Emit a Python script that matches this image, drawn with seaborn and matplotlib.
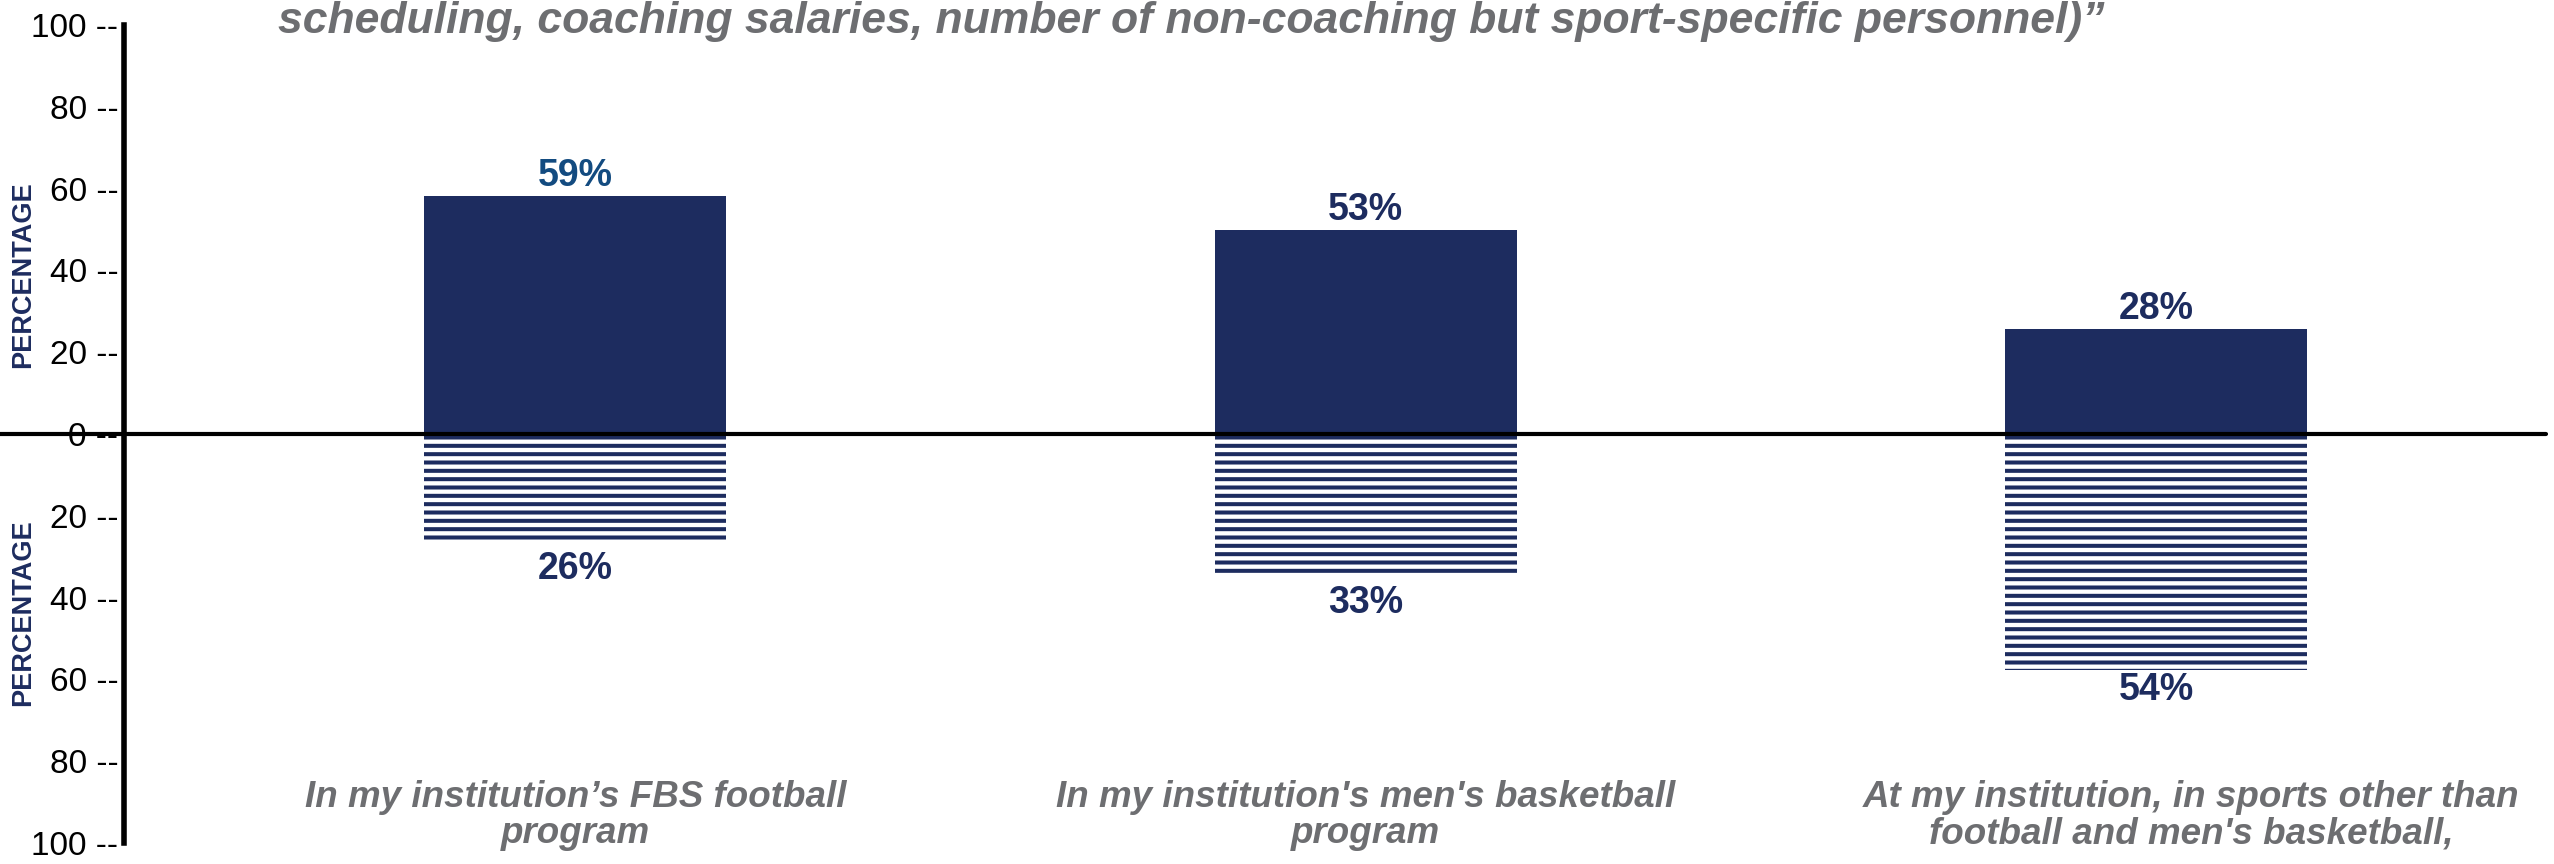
import matplotlib
matplotlib.use("Agg")
import matplotlib.pyplot as plt
import matplotlib.transforms as mtransforms
import pandas as pd
import seaborn as sns

NAVY = "#1d2c5f"
STEEL = "#134b80"
GRAY = "#6d6e71"

categories = [
    "In my institution\u2019s FBS football\nprogram",
    "In my institution's men's basketball\nprogram",
    "At my institution, in sports other than\nfootball and men's basketball,",
]
agree_height = [58.3, 50.0, 25.7]
agree_label = ["59%", "53%", "28%"]
disagree_height = [26.0, 34.3, 57.6]
disagree_label = ["26%", "33%", "54%"]
y_ticks = [-100, -80, -60, -40, -20, 0, 20, 40, 60, 80, 100]
title_line = "scheduling, coaching salaries, number of non-coaching but sport-specific personnel)\u201d"


def main() -> None:
    sns.set_theme(style="white")
    plt.rcParams["font.family"] = ["Liberation Sans", "DejaVu Sans"]
    plt.rcParams["hatch.linewidth"] = 2.9
    plt.rcParams["hatch.color"] = NAVY

    W, H = 2554, 864
    fig = plt.figure(figsize=(W / 100, H / 100), dpi=100)
    ax = fig.add_axes([124 / W, 21 / H, (2546 - 124) / W, (843 - 25) / H])

    top = pd.DataFrame({"category": categories, "value": agree_height})
    bottom = pd.DataFrame({"category": categories, "value": [-v for v in disagree_height]})

    sns.barplot(data=top, x="category", y="value", color=NAVY, saturation=1,
                width=0.382, errorbar=None, linewidth=0, ax=ax)
    sns.barplot(data=bottom, x="category", y="value", color="white", saturation=1,
                width=0.382, errorbar=None, edgecolor=NAVY, hatch="--", linewidth=0, ax=ax)

    top_texts = ax.bar_label(ax.containers[0], labels=agree_label, padding=1,
                             fontsize=27, fontweight="bold", color=NAVY)
    top_texts[0].set_color(STEEL)
    low_texts = ax.bar_label(ax.containers[1], labels=disagree_label, padding=8,
                             fontsize=27, fontweight="bold", color=NAVY)
    low_texts[2].xyann = (0, -2)

    ax.axhline(0, xmin=-124 / 2422, xmax=1, color="black", lw=3, clip_on=False, zorder=5)

    ax.set_ylim(-100, 100)
    ax.set_xlim(-0.571, 2.493)
    ax.set_yticks(y_ticks, labels=[f"{abs(t)} --" for t in y_ticks], fontsize=24)
    ax.set_xticks(range(len(categories)), labels=categories)
    ax.tick_params(axis="y", length=0, pad=4, labelcolor="black")
    ax.tick_params(axis="x", length=0, pad=-45.5, labelsize=26.5, labelcolor=GRAY)
    for lab in ax.get_xticklabels():
        lab.set_fontstyle("italic")
        lab.set_fontweight("bold")
        lab.set_linespacing(1.05)
    # the third category label sits a little right of its bar in the source
    lab3 = ax.xaxis.get_major_ticks()[2].label1
    lab3.set_transform(lab3.get_transform() + mtransforms.ScaledTranslation(0.35, 0, fig.dpi_scale_trans))
    ax.set_xlabel("")
    ax.set_ylabel("")

    sns.despine(ax=ax, top=True, right=True, bottom=True, left=False)
    ax.spines["left"].set_color("black")
    ax.spines["left"].set_linewidth(4)

    for yc in (275, 613):
        fig.text(23 / W, 1 - yc / H, "PERCENTAGE", rotation=90, ha="center", va="center",
                 color=NAVY, fontsize=19.5, fontweight="bold")

    fig.text(1191 / W, 1 - 33 / H, title_line, ha="center", va="baseline",
             fontsize=32, fontstyle="italic", fontweight="bold", color=GRAY)

    fig.savefig("out.png", dpi=100)
    plt.close(fig)


if __name__ == "__main__":
    main()
